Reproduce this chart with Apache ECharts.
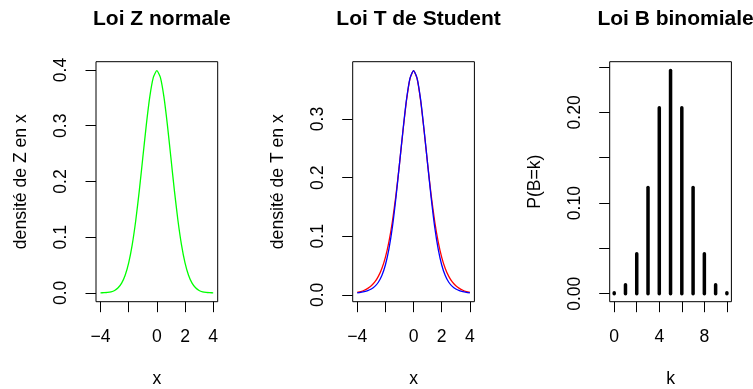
<!DOCTYPE html>
<html><head><meta charset="utf-8">
<script src="https://cdn.jsdelivr.net/npm/echarts@6/dist/echarts.min.js"></script>
<style>html,body{margin:0;padding:0;background:#fff}#c{width:753px;height:389px}</style>
</head><body><div id="c"></div>
<script>
// ---- data ----
const titles = ['Loi Z normale', 'Loi T de Student', 'Loi B binomiale'];
const yNames = ['densit\u00e9 de Z en x', 'densit\u00e9 de T en x', 'P(B=k)'];
const xNames = ['x', 'x', 'k'];
const xGrid = [-4,-3.75,-3.5,-3.25,-3,-2.75,-2.5,-2.25,-2,-1.75,-1.5,-1.25,-1,-0.75,-0.5,-0.25,0,0.25,0.5,0.75,1,1.25,1.5,1.75,2,2.25,2.5,2.75,3,3.25,3.5,3.75,4];
const normalY = [0.0001,0.0004,0.0009,0.0020,0.0044,0.0091,0.0175,0.0317,0.0540,0.0863,0.1295,0.1826,0.2420,0.3011,0.3521,0.3867,0.3989,0.3867,0.3521,0.3011,0.2420,0.1826,0.1295,0.0863,0.0540,0.0317,0.0175,0.0091,0.0044,0.0020,0.0009,0.0004,0.0001];
const studentRed = [0.0041,0.0056,0.0078,0.0110,0.0155,0.0220,0.0315,0.0450,0.0640,0.0904,0.1256,0.1702,0.2231,0.2797,0.3317,0.3691,0.3827,0.3691,0.3317,0.2797,0.2231,0.1702,0.1256,0.0904,0.0640,0.0450,0.0315,0.0220,0.0155,0.0110,0.0078,0.0056,0.0041];
const studentBlue = [0.0035,0.0044,0.0055,0.0072,0.0100,0.0145,0.0215,0.0330,0.0510,0.0780,0.1160,0.1660,0.2230,0.2810,0.3335,0.3700,0.3827,0.3700,0.3335,0.2810,0.2230,0.1660,0.1160,0.0780,0.0510,0.0330,0.0215,0.0145,0.0100,0.0072,0.0055,0.0044,0.0035];
const binomK = [0,1,2,3,4,5,6,7,8,9,10];
const binomP = [0.00098,0.00977,0.04395,0.11719,0.20508,0.24609,0.20508,0.11719,0.04395,0.00977,0.00098];
const xTicks = [[-4,-2,0,2,4],[-4,-2,0,2,4],[0,2,4,6,8,10]];
const xTickLabels = [[-4,0,2,4],[-4,0,2,4],[0,4,8]];
const yTicks = [[0,0.1,0.2,0.3,0.4],[0,0.1,0.2,0.3],[0,0.05,0.1,0.15,0.2,0.25]];
const yTickLabels = [[0,0.1,0.2,0.3,0.4],[0,0.1,0.2,0.3],[0,0.1,0.2]];
const yDecimals = [1,1,2];
const xRanges = [[-4.32,4.32],[-4.32,4.32],[-0.4,10.4]];
const yRanges = [[-0.0158,0.4149],[-0.0117,0.3979],[-0.0088,0.2559]];

// ---- layout ----
const FONT = 'Liberation Sans, Arial, Helvetica, sans-serif';
const FS = 17.6;
const lefts = [96, 352.7, 609.7];
const W = 121.7, TOP = 61.7, H = 240;

const fmtMinus = v => String(v).replace('-', '\u2212');
const grid = [], xAxis = [], yAxis = [], title = [], series = [];
for (let i = 0; i < 3; i++) {
  grid.push({left: lefts[i], top: TOP, width: W, height: H, show: true, borderColor: '#000', borderWidth: 1, backgroundColor: 'transparent', containLabel: false, outerBoundsMode: 'none'});
  title.push({text: titles[i], left: lefts[i] + W / 2, top: 4, textAlign: 'center',
    textStyle: {fontFamily: FONT, fontSize: 21, fontWeight: 'bold', color: '#000'}});
  xAxis.push({type: 'value', gridIndex: i, position: 'bottom', min: xRanges[i][0], max: xRanges[i][1],
    name: xNames[i], nameLocation: 'middle', nameGap: 68,
    nameTextStyle: {fontFamily: FONT, fontSize: FS, color: '#000'},
    axisLine: {show: false, onZero: false}, splitLine: {show: false},
    axisTick: {show: true, length: 10.5, lineStyle: {color: '#000', width: 1}, customValues: xTicks[i]},
    axisLabel: {show: true, margin: 26, fontFamily: FONT, fontSize: FS, color: '#000', customValues: xTickLabels[i], formatter: fmtMinus}
  });
  const d = yDecimals[i];
  yAxis.push({type: 'value', gridIndex: i, position: 'left', min: yRanges[i][0], max: yRanges[i][1],
    name: yNames[i], nameLocation: 'middle', nameGap: 66, nameRotate: 90,
    nameTextStyle: {fontFamily: FONT, fontSize: FS, color: '#000'},
    axisLine: {show: false, onZero: false}, splitLine: {show: false},
    axisTick: {show: true, length: 10.5, lineStyle: {color: '#000', width: 1}, customValues: yTicks[i]},
    axisLabel: {show: true, rotate: 90, margin: 26, fontFamily: FONT, fontSize: FS, color: '#000', customValues: yTickLabels[i], formatter: v => Number(v).toFixed(d)}
  });
}
const pairs = (xs, ys) => xs.map((x, j) => [x, ys[j]]);
series.push({type: 'line', xAxisIndex: 0, yAxisIndex: 0, data: pairs(xGrid, normalY), showSymbol: false, smooth: 0.2, lineStyle: {color: '#00ff00', width: 1.3}});
series.push({type: 'line', xAxisIndex: 1, yAxisIndex: 1, data: pairs(xGrid, studentRed), showSymbol: false, smooth: 0.2, lineStyle: {color: '#ff0000', width: 1.3}});
series.push({type: 'line', xAxisIndex: 1, yAxisIndex: 1, data: pairs(xGrid, studentBlue), showSymbol: false, smooth: 0.2, lineStyle: {color: '#0000ff', width: 1.3}});
series.push({type: 'custom', xAxisIndex: 2, yAxisIndex: 2, data: pairs(binomK, binomP),
  renderItem: (params, api) => {
    const p0 = api.coord([api.value(0), 0]);
    const p1 = api.coord([api.value(0), api.value(1)]);
    return {type: 'line', shape: {x1: p0[0], y1: p0[1], x2: p1[0], y2: p1[1]},
      style: {stroke: '#000', lineWidth: 3.5, lineCap: 'round'}};
  }});

const chart = echarts.init(document.getElementById('c'), null, {renderer: 'canvas'});
chart.setOption({animation: false, backgroundColor: '#fff', title, grid, xAxis, yAxis, series});
</script></body></html>
